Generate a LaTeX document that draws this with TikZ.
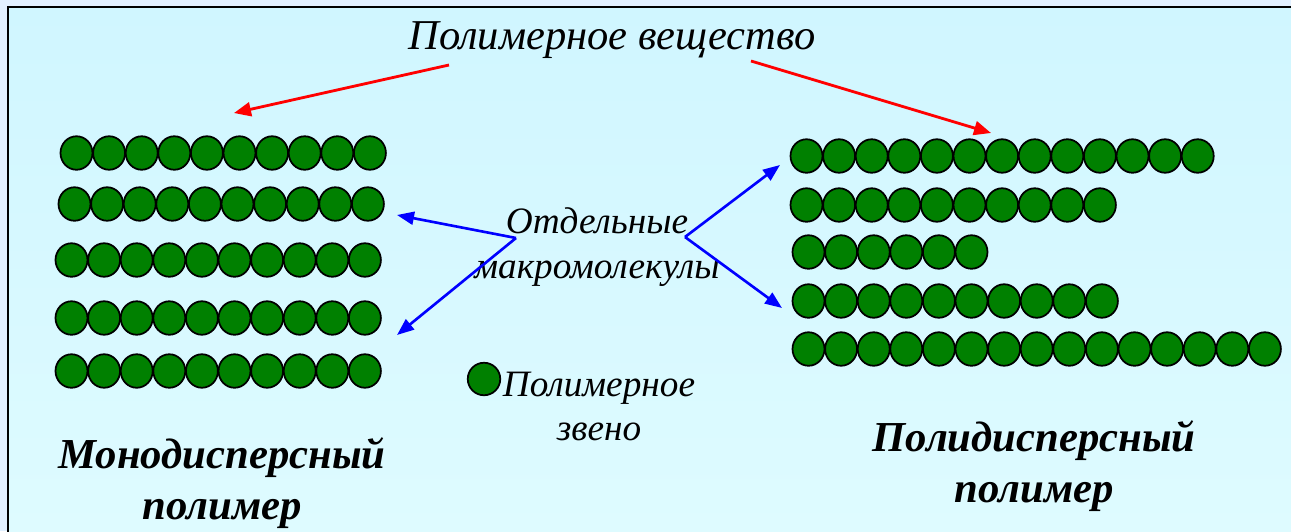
\documentclass[tikz,border=0pt]{standalone}
\usepackage{fontspec}
\setmainfont{Liberation Serif}
\usetikzlibrary{arrows.meta, shapes.geometric}
\definecolor{chain}{RGB}{0,128,0}
\definecolor{slidetop}{RGB}{208,246,255}
\definecolor{slidebottom}{RGB}{222,251,255}
\definecolor{outside}{RGB}{226,240,255}
\tikzset{
    unit/.style = {ellipse, draw, fill = chain, line width = 1pt, inner sep = 0pt,
        minimum width = 0.64cm, minimum height = 0.67cm},
    redarrow/.style = {red, line width = 1.6pt, -{Triangle[length = 0.34cm, width = 0.28cm]}},
    bluearrow/.style = {blue, line width = 1.5pt, -{Triangle[length = 0.34cm, width = 0.26cm]}},
    italictext/.style = {font = \fontsize{21.2}{25.6}\selectfont\itshape, align = center, inner sep = 0pt},
    boldtext/.style = {font = \fontsize{24.3}{29}\selectfont\bfseries\itshape, align = center, inner sep = 0pt}
}
\begin{document}
\begin{tikzpicture}[x = 0.02cm, y = -0.02cm]
        \useasboundingbox (0, 0) rectangle (1291, 531);
        \fill [outside] (0, 0) rectangle (1291, 531);
        \shade [top color = slidetop, bottom color = slidebottom] (8, 7) rectangle (1291, 531);
        \draw [line width = 1.7pt] (8, 540) -- (8, 7) -- (1300, 7);
        \foreach \y/\x [count = \r] in {153/60, 204/58, 260/55, 318/55, 371/55}
            \foreach \i in {1, ..., 10}
                \node [unit] (mono\r-\i) at ({\x + 16.5 + 32.6*(\i - 1)}, \y) {};
        \foreach \y/\x/\n [count = \r] in {156/790/13, 205/790/10, 252/792/6, 301/792/10, 349/792/15}
            \foreach \i in {1, ..., \n}
                \node [unit] (poly\r-\i) at ({\x + 16.5 + 32.6*(\i - 1)}, \y) {};
        \node [italictext, font = \fontsize{24.2}{29}\selectfont\itshape, anchor = base] (substance) at (612, 49) {Полимерное вещество};
        \node [italictext, anchor = base] (macro) at (597, 278) {Отдельные\\макромолекулы};
        \node [unit, minimum width = 0.65cm, minimum height = 0.65cm] (link) at (484, 379) {};
        \node [italictext, font = \fontsize{21.2}{24.5}\selectfont\itshape, anchor = base] (linktext) at (599, 440) {Полимерное\\звено};
        \node [boldtext, anchor = base] (monotext) at (222, 519) {Монодисперсный\\полимер};
        \node [boldtext, font = \fontsize{24.3}{28.5}\selectfont\bfseries\itshape, anchor = base] (polytext) at (1034, 502) {Полидисперсный\\полимер};
        \coordinate (redleft) at (449, 65);
        \coordinate (redright) at (751, 61);
        \coordinate (monotop) at (234, 113);
        \coordinate (polytop) at (991, 133);
        \draw [redarrow] (redleft) -- (monotop);
        \draw [redarrow] (redright) -- (polytop);
        \coordinate (forkleft) at (516, 238);
        \coordinate (forkright) at (685, 237);
        \coordinate (monoupper) at (397, 215);
        \coordinate (monolower) at (397, 335);
        \coordinate (polyupper) at (780, 165);
        \coordinate (polylower) at (782, 308);
        \draw [bluearrow] (forkleft) -- (monoupper);
        \draw [bluearrow] (forkleft) -- (monolower);
        \draw [bluearrow] (forkright) -- (polyupper);
        \draw [bluearrow] (forkright) -- (polylower);
    \end{tikzpicture}
\end{document}
